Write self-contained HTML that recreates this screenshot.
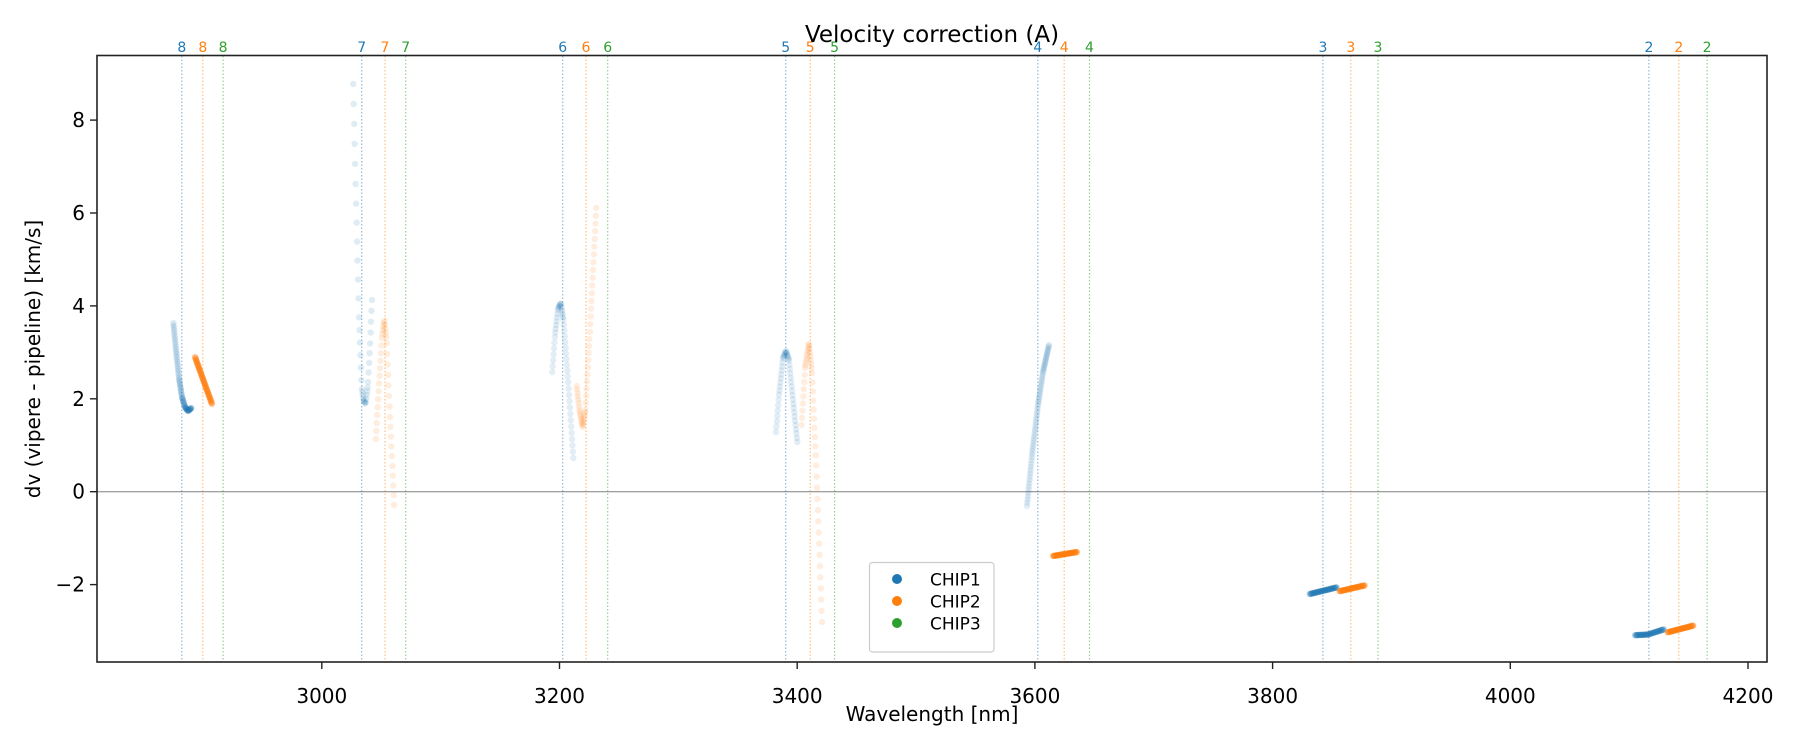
<!DOCTYPE html>
<html><head><meta charset="utf-8"><style>
html,body{margin:0;padding:0;background:#fff;}
svg text{font-family:"DejaVu Sans","Liberation Sans",sans-serif;}
</style></head><body>
<svg id="s" width="1800" height="750" xmlns="http://www.w3.org/2000/svg">
<rect width="1800" height="750" fill="#fff"/>
<g id="vl"></g>
<line x1="97" y1="491.7" x2="1767" y2="491.7" stroke="#808080" stroke-width="1"/>
<g id="pts"></g>
<rect x="97" y="55.5" width="1670" height="606.5" fill="none" stroke="#222" stroke-width="1.6"/>
<g id="ax" font-size="20" fill="#000"></g>
<text x="932" y="42" font-size="23" text-anchor="middle">Velocity correction (A)</text>
<text x="932" y="721" font-size="20" text-anchor="middle">Wavelength [nm]</text>
<text transform="translate(40,359) rotate(-90)" font-size="20" text-anchor="middle">dv (vipere - pipeline) [km/s]</text>
<g>
<rect x="869.5" y="562.5" width="124.5" height="89.5" rx="3" fill="#fff" fill-opacity="0.8" stroke="#ccc" stroke-width="1.2"/>
<circle cx="897" cy="579" r="5" fill="#1f77b4"/>
<circle cx="897" cy="601" r="5" fill="#ff7f0e"/>
<circle cx="897" cy="623" r="5" fill="#2ca02c"/>
<text x="930" y="585.5" font-size="17">CHIP1</text>
<text x="930" y="607.5" font-size="17">CHIP2</text>
<text x="930" y="629.5" font-size="17">CHIP3</text>
</g>
</svg>
<script>
var NS="http://www.w3.org/2000/svg";
function el(p,t,a,txt){var e=document.createElementNS(NS,t);for(var k in a)e.setAttribute(k,a[k]);if(txt!=null)e.textContent=txt;p.appendChild(e);return e;}
var B="#1f77b4",O="#ff7f0e",G="#2ca02c";
var vl=document.getElementById('vl');
var lines=[[181.8,B,8],[202.8,O,8],[223.1,G,8],[361.7,B,7],[385,O,7],[405.7,G,7],[562.7,B,6],[586,O,6],[607.7,G,6],[785.7,B,5],[810.2,O,5],[834.6,G,5],[1037.8,B,4],[1064.2,O,4],[1089.5,G,4],[1322.9,B,3],[1350.8,O,3],[1378,G,3],[1648.9,B,2],[1678.8,O,2],[1707.1,G,2]];
lines.forEach(function(l){
 el(vl,'line',{x1:l[0],x2:l[0],y1:56,y2:662,stroke:l[1],'stroke-width':1.2,'stroke-dasharray':'1.5 2','stroke-opacity':0.5});
 el(vl,'text',{x:l[0],y:52,'font-size':14,'text-anchor':'middle',fill:l[1]},l[2]);
});
var ax=document.getElementById('ax');
[3000,3200,3400,3600,3800,4000,4200].forEach(function(w){var x=321.8+(w-3000)*1.1885;
 el(ax,'line',{x1:x,x2:x,y1:662,y2:669,stroke:'#222','stroke-width':1.4});
 el(ax,'text',{x:x,y:703,'text-anchor':'middle'},w);});
[-2,0,2,4,6,8].forEach(function(v){var y=491.7-46.45*v;
 el(ax,'line',{x1:90,x2:97,y1:y,y2:y,stroke:'#222','stroke-width':1.4});
 el(ax,'text',{x:85,y:y+7,'text-anchor':'end'},v<0?'\u2212'+(-v):v);});
var pts=document.getElementById('pts');
function seg(cp,n,c,op,r){
 var x0=cp[0][0],x1=cp[cp.length-1][0];
 for(var i=0;i<n;i++){var x=x0+(x1-x0)*i/(n-1);var j=0;while(j<cp.length-2&&x>cp[j+1][0])j++;
  var a=cp[j],b=cp[j+1];var t=(x-a[0])/(b[0]-a[0]);var y=a[1]+(b[1]-a[1])*t;
  el(pts,'circle',{cx:x.toFixed(1),cy:y.toFixed(1),r:r||3.2,fill:c,'fill-opacity':op});}
}
// order 8
seg([[173.4,323],[176,350],[179,378],[182,397],[185,407],[188,411],[191.4,408]],80,B,0.15);
seg([[195,357],[212,404]],60,O,0.3);
// order 7
seg([[353.2,84],[356,200],[359,318],[361.7,388],[363.5,400],[365.5,404],[368,385],[370,345],[372,300]],40,B,0.14);
seg([[375.8,439],[379,385],[382,337],[384.2,320],[386.5,340],[390,418],[394.2,505]],40,O,0.14);
// order 6
seg([[552.3,372],[555,335],[558,309],[560.7,303],[563.5,320],[568,380],[573.3,458]],50,B,0.13);
seg([[576.7,386],[579.5,410],[582.7,427],[585.5,410],[590,330],[596.3,208]],50,O,0.13);
// order 5
seg([[776,432],[779,395],[783,358],[786,351],[789,360],[793,400],[797.3,442]],50,B,0.13);
seg([[801.7,425],[805,368],[809,343],[812,372],[816,460],[822,622]],50,O,0.13);
// order 4
seg([[1027,506],[1032,455],[1038,405],[1043,372],[1049,345]],70,B,0.13);
seg([[1053,556],[1077,552]],50,O,0.3);
// order 3
seg([[1309.8,594],[1336.6,587.4]],50,B,0.25);
seg([[1339.5,591.2],[1364.7,585.4]],50,O,0.3);
// order 2
seg([[1635.1,635.2],[1648,634.5],[1663.8,629.4]],50,B,0.25);
seg([[1667.6,632.3],[1693.3,625.6]],50,O,0.3);
</script>
</body></html>
